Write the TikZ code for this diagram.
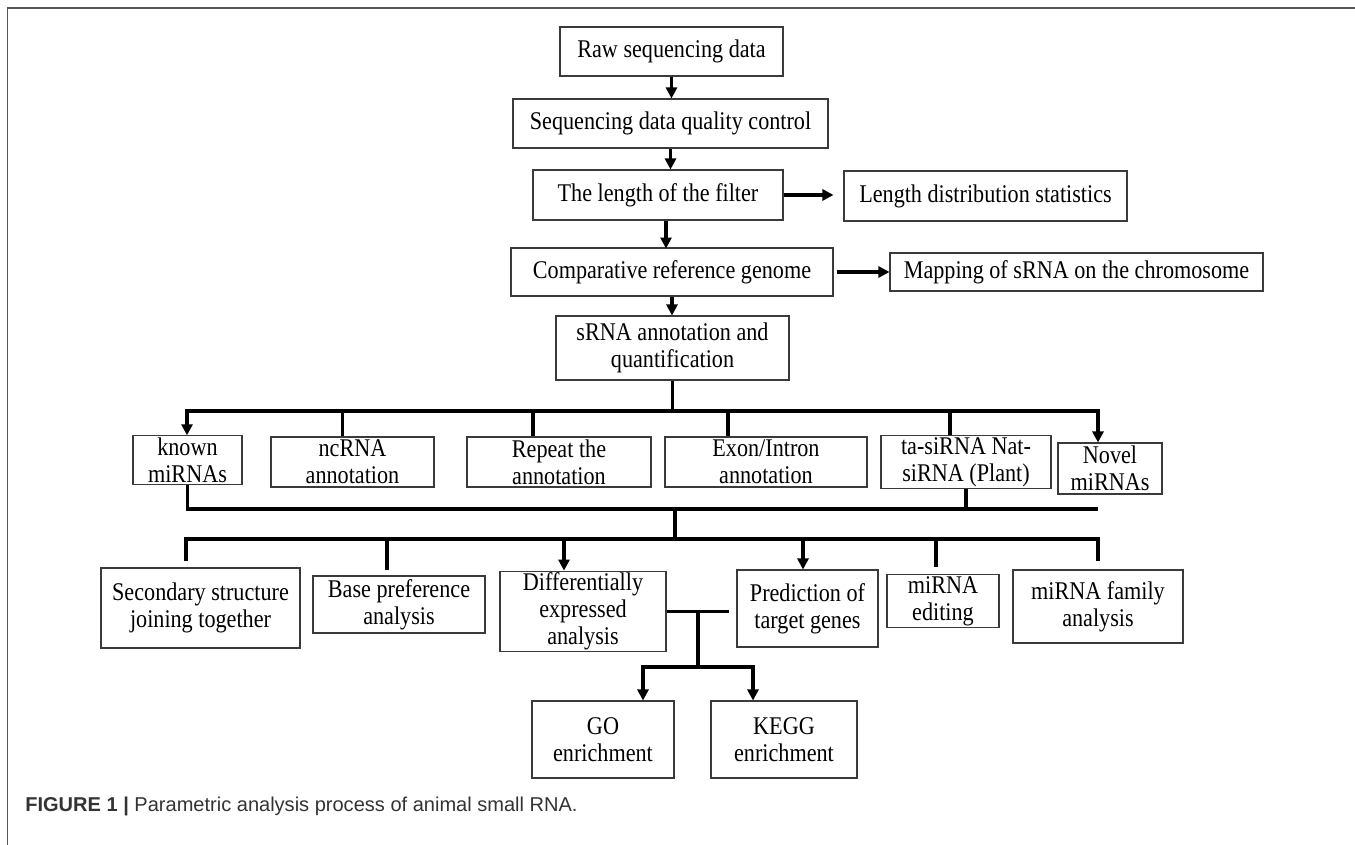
\documentclass[tikz,border=0pt]{standalone}
\usepackage{fontspec}
\setmainfont[FakeStretch=0.87]{Liberation Serif}
\newfontfamily\capfont{Liberation Sans}
\usetikzlibrary{arrows.meta,calc}
\definecolor{boxline}{HTML}{3A3A3A}
\definecolor{frameline}{HTML}{555555}
\definecolor{captext}{HTML}{333333}

\begin{document}
\begin{tikzpicture}[>=Latex,
 b/.style={draw=boxline,line width=0.6pt,align=center,inner sep=1pt,
   font=\fontsize{14.5}{15.3}\selectfont},
 l/.style={line width=1.8pt,black},
 a/.style={-{Triangle[length=2.2mm,width=2.2mm]},line width=1.8pt,black},
 aa/.style={{Triangle[length=2.2mm,width=2.2mm]}-{Triangle[length=2.2mm,width=2.2mm]},
   line width=1.8pt,black}]
\useasboundingbox (0,0) rectangle (27.1,-16.9);
\draw[frameline,line width=0.9pt] (27.1,-0.16) -- (0.15,-0.16) -- (0.15,-16.9);
% main chain
\node[b,minimum width=4.46cm,minimum height=0.98cm] (raw) at (13.43,-1.03) {Raw sequencing data};
\node[b,minimum width=6.30cm,minimum height=0.98cm] (sdqc) at (13.41,-2.47) {Sequencing data quality control};
\node[b,minimum width=5.00cm,minimum height=1.00cm] (filter) at (13.16,-3.90) {The length of the filter};
\node[b,minimum width=5.66cm,minimum height=1.00cm] (lds) at (19.71,-3.92) {Length distribution statistics};
\node[b,minimum width=6.44cm,minimum height=0.96cm] (comp) at (13.44,-5.44) {Comparative reference genome};
\node[b,minimum width=7.46cm,minimum height=0.76cm] (map) at (21.53,-5.44) {Mapping of sRNA on the chromosome};
\node[b,minimum width=4.66cm,minimum height=1.28cm] (srna) at (13.45,-6.96) {sRNA annotation and\\quantification};
\draw[a] (raw.south) -- (raw.south |- sdqc.north);
\draw[a] (sdqc.south) -- (sdqc.south |- filter.north);
\draw[a] ([xshift=0.16cm]filter.south) -- ++(0,-0.56);
\draw[a,shorten >=0.2cm] (filter.east) -- (filter.east -| lds.west);
\draw[a] ([xshift=0.06cm]comp.east) -- (comp.east -| map.west);
\draw[a] (comp.south) -- (comp.south |- srna.north);
% annotation row
\node[b,minimum width=2.18cm,minimum height=0.92cm] (known) at (3.75,-9.20) {known\\miRNAs};
\node[b,minimum width=3.26cm,minimum height=1.00cm] (ncrna) at (7.05,-9.24) {ncRNA\\annotation};
\node[b,minimum width=3.68cm,minimum height=1.00cm] (repeat) at (11.18,-9.24) {Repeat the\\annotation};
\node[b,minimum width=4.04cm,minimum height=1.00cm] (exon) at (15.32,-9.24) {Exon/Intron\\annotation};
\node[b,minimum width=3.40cm,minimum height=1.00cm] (ta) at (19.32,-9.24) {ta-siRNA Nat-\\siRNA (Plant)};
\node[b,minimum width=2.08cm,minimum height=1.02cm] (novel) at (22.20,-9.37) {Novel\\miRNAs};
\coordinate (j1) at (3.74,-8.22);
\coordinate (j2) at (21.96,-8.22);
\draw[l] (srna.south) -- (srna.south |- j1);
\draw[aa] (j1 |- known.north) -- (j1) -- (j2) -- (j2 |- novel.north);
\draw[l] ([xshift=-0.20cm]ncrna.north) -- ++(0,0.52);
\draw[l] ([xshift=-0.52cm]repeat.north) -- ++(0,0.52);
\draw[l] ([xshift=-0.76cm]exon.north) -- ++(0,0.52);
\draw[l] ([xshift=-0.32cm]ta.north) -- ++(0,0.52);
% analysis row
\node[b,minimum width=3.98cm,minimum height=1.60cm] (sec) at (4.01,-12.16) {Secondary structure\\joining together};
\node[b,minimum width=3.44cm,minimum height=1.14cm] (base) at (7.98,-12.09) {Base preference\\analysis};
\node[b,minimum width=3.32cm,minimum height=1.58cm] (diff) at (11.66,-12.23) {Differentially\\expressed\\analysis};
\node[b,minimum width=2.82cm,minimum height=1.54cm] (pred) at (16.15,-12.17) {Prediction of\\target genes};
\node[b,minimum width=2.24cm,minimum height=1.04cm] (edit) at (18.86,-12.02) {miRNA\\editing};
\node[b,minimum width=3.40cm,minimum height=1.46cm] (fam) at (21.96,-12.13) {miRNA family\\analysis};
\coordinate (k2) at (21.96,-10.18);
\coordinate (k3) at (13.50,-10.18);
\coordinate (k4) at (13.50,-10.78);
\draw[l] (known.south) |- (k2);
\draw[l] (ta.south) -- (ta.south |- k2);
\draw[l] (k3) -- (k4);
\draw[l] ($(sec.north)+(-0.29,0.12)$) |- (k4) -| ($(fam.north)+(0,0.16)$);
\draw[l] ($(base.north)+(-0.24,0.10)$) -- ++(0,0.64);
\draw[a] ($(diff.north)+(-0.38,0.66)$) -- ($(diff.north)+(-0.38,0)$);
\draw[a] ($(pred.north)+(-0.09,0.62)$) -- ($(pred.north)+(-0.09,0)$);
\draw[l] ($(edit.north)+(-0.14,0.14)$) -- ++(0,0.58);
% enrichment
\node[b,minimum width=2.84cm,minimum height=1.54cm] (go) at (12.06,-14.79) {GO\\enrichment};
\node[b,minimum width=2.92cm,minimum height=1.54cm] (kegg) at (15.68,-14.79) {KEGG\\enrichment};
\coordinate (t1) at (13.96,-12.24);
\coordinate (t2) at (13.96,-13.34);
\draw[l] (diff.east) -- ++(1.24,0);
\draw[l] (t1) -- (t2);
\draw[aa] ($(go.north)+(0.80,0)$) |- (t2) -| ($(kegg.north)+(-0.62,0)$);
\node[anchor=base west,inner sep=0pt,text=captext,
  font=\capfont\fontsize{11.4}{13}\selectfont] (cap) at (0.50,-16.24)
  {\textbf{FIGURE 1 |} Parametric analysis process of animal small RNA.};
\end{tikzpicture}
\end{document}
